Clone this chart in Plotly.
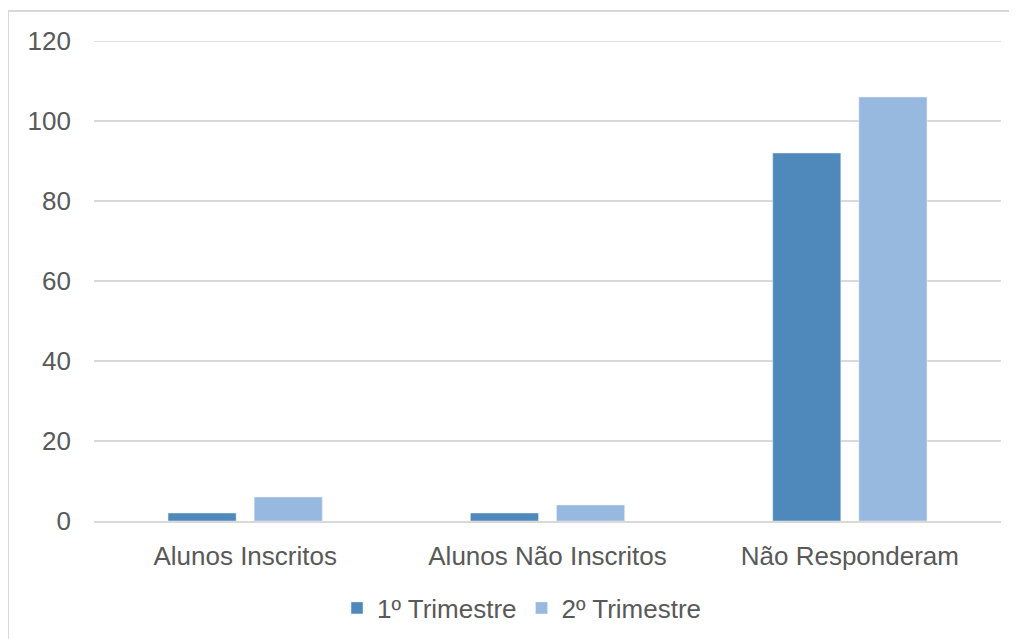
import plotly.graph_objects as go

categories = ["Alunos Inscritos", "Alunos Não Inscritos", "Não Responderam"]
tri1 = [2, 2, 92]
tri2 = [6, 4, 106]
series_names = ["1º Trimestre", "2º Trimestre"]
y_ticks = [0, 20, 40, 60, 80, 100, 120]

fig = go.Figure()
fig.add_trace(go.Bar(x=categories, y=tri1, name=series_names[0], marker_color="#4F88BB"))
fig.add_trace(go.Bar(x=categories, y=tri2, name=series_names[1], marker_color="#98B9DF"))

# page is offset by the default 8px body margin
OFF = 8
W, H = 1017 - OFF, 639 - OFF
L, R, T, B = 94 - OFF, 1017 - 1001, 41 - OFF, 639 - 521
pw, ph = W - L - R, H - T - B

def px(xp):
    return (xp - OFF - L) / pw

def py(yp):
    return (H - B - (yp - OFF)) / ph

shapes = [
    dict(type="line", xref="paper", yref="paper", x0=px(8), x1=px(1030), y0=py(11), y1=py(11),
         line=dict(color="#d9d9d9", width=2)),
    dict(type="line", xref="paper", yref="paper", x0=px(8), x1=px(8), y0=py(11), y1=py(650),
         line=dict(color="#d9d9d9", width=2)),
    dict(type="path", xref="paper", yref="paper",
         path=f"M {px(-2)},{py(650)} L {px(-2)},{py(535)} Q {px(3)},{py(515)} {px(6.5)},{py(508)} L {px(6.5)},{py(650)} Z",
         fillcolor="#dcdfea", line=dict(width=0)),
    dict(type="line", xref="paper", yref="y", x0=0, x1=1, y0=120, y1=120,
         line=dict(color="#d9d9d9", width=1.5), layer="below"),
]

fig.update_layout(
    width=W, height=H,
    margin=dict(l=L, r=R, t=T, b=B, autoexpand=False),
    paper_bgcolor="white", plot_bgcolor="white",
    font=dict(family="Liberation Sans, Arial", size=26, color="#595959"),
    barmode="group", bargap=0.43, bargroupgap=0.21,
    showlegend=True,
    legend=dict(orientation="h", x=px(522), xanchor="center", y=py(608), yanchor="middle",
                font=dict(size=26, color="#595959"), itemwidth=30, traceorder="normal"),
    shapes=shapes,
    xaxis=dict(showgrid=False, showline=True, linecolor="#d9d9d9", linewidth=1.5, automargin=False,
               ticks="", ticklabelstandoff=11, tickfont=dict(size=26, color="#595959")),
    yaxis=dict(range=[0, 120], tickvals=y_ticks, showgrid=True, gridcolor="#d9d9d9", gridwidth=1.5,
               zeroline=False, showline=False, ticks="", ticklabelstandoff=22, automargin=False,
               tickfont=dict(size=26, color="#595959")),
)

fig.write_html("out.html")
